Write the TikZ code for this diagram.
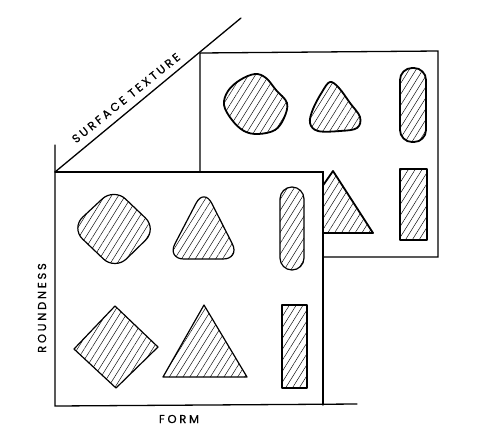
\documentclass[tikz,border=0pt]{standalone}
\usepackage{fontspec}
\setmainfont{Poppins}
\usetikzlibrary{patterns.meta}
\tikzset{
  hatchfill/.style={pattern={Lines[angle=58,distance=5.8pt,line width=.45pt]}},
  frontshape/.style={draw, line width=1.2pt, hatchfill, line join=round},
  backshape/.style={draw, line width=1.8pt, hatchfill, line join=round},
  frame/.style={line width=1.3pt, line cap=round},
  axislabel/.style={font=\fontsize{11.5}{13}\selectfont\addfontfeature{LetterSpace=24,FakeBold=0.8}, inner sep=0pt}
}
\begin{document}
\begin{tikzpicture}[x=1pt,y=-1pt]
\useasboundingbox (0,0) rectangle (478,429);
% ---------- back panel ----------
\coordinate (b1) at (200,53);
\coordinate (b2) at (438,51);
\coordinate (b3) at (438,257);
\coordinate (b4) at (200,257);
\draw[frame] (b1) -- (b2) -- (b3) -- (b4) -- cycle;
% back shapes
\draw[backshape] plot[smooth cycle, tension=0.6] coordinates {(255,74) (266,78) (276,90) (287,103) (284,118) (275,130) (258,134) (244,131) (232,120) (224,105) (228,91) (240,80)};
\draw[backshape] plot[smooth cycle, tension=0.6] coordinates {(330,82) (339,88) (350,103) (360,117) (357,128) (340,131) (318,131) (310,123) (313,109) (322,92)};
\draw[backshape, rounded corners=12pt] (400,68) rectangle (426,142);
\draw[backshape] (333,171) -- (373,233) -- (290,233) -- cycle;
\draw[backshape] (400,169) rectangle (427,240);
% ---------- front panel ----------
\coordinate (o) at (55,172);
\coordinate (f2) at (323,172);
\coordinate (f3) at (323,405);
\coordinate (f4) at (55,406);
\fill[white] (o) rectangle (f3);
\draw[frame] (o) -- (f2) -- (f3);
% axes
\coordinate (ytop) at (55,145);
\coordinate (xend) at (357,404);
\coordinate (zend) at (241,18);
\draw[frame] (ytop) -- (f4) -- (xend);
\draw[frame] (o) -- (zend);
% front shapes
\draw[frontshape, rounded corners=16pt] (114,188) -- (157,229) -- (115,270) -- (71,228) -- cycle;
\draw[frontshape, rounded corners=17pt] (204,188) -- (240,259) -- (167,259) -- cycle;
\draw[frontshape, rounded corners=12pt] (280,187) rectangle (304,270);
\draw[frontshape] (115,306) -- (158,347) -- (116,388) -- (74,349) -- cycle;
\draw[frontshape] (204,305) -- (247,377) -- (163,377) -- cycle;
\draw[frontshape] (282,305) rectangle (307,388);
% labels
\node[axislabel, rotate=39] (zlab) at (126,98) {SURFACE TEXTURE};
\node[axislabel, rotate=90] (ylab) at (42,308) {ROUNDNESS};
\node[axislabel] (xlab) at (179,419) {FORM};
\end{tikzpicture}
\end{document}
